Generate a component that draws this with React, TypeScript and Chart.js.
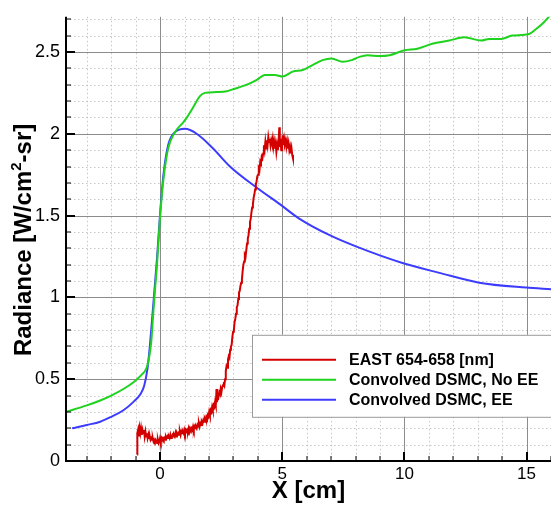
import React, { useEffect, useRef } from 'react';
import { Chart, registerables } from 'chart.js';

Chart.register(...registerables);

const FONT = '"Liberation Sans", Arial, Helvetica, sans-serif';

// ---- axes ----
const xMin = -3.85;
const xMax = 16;
const yMin = 0;
const yMax = 2.715;
const xMajorTicks = [0, 5, 10, 15];
const yMajorTicks = [0, 0.5, 1, 1.5, 2, 2.5];
const xMinorTicks = [-3, -2, -1, 1, 2, 3, 4, 6, 7, 8, 9, 11, 12, 13, 14, 16];
const yMinorTicks = [0.1, 0.2, 0.3, 0.4, 0.6, 0.7, 0.8, 0.9, 1.1, 1.2, 1.3, 1.4, 1.6, 1.7, 1.8, 1.9, 2.1, 2.2, 2.3, 2.4, 2.6, 2.7];

const xTitle = 'X [cm]';
const yTitleParts = ['Radiance [W/cm', '2', '-sr]'];

// ---- series ----
const seriesLabels = ['EAST 654-658 [nm]', 'Convolved DSMC, No EE', 'Convolved DSMC, EE'];
const seriesColors = ['#d40000', '#1ed21e', '#3c3cff'];

const eastData: [number, number][] = [
  [-0.94, 0.04], [-0.93, 0.17], [-0.9, 0.19], [-0.87, 0.15], [-0.84, 0.2], [-0.81, 0.17], [-0.78, 0.2], [-0.75, 0.16],
  [-0.72, 0.19], [-0.69, 0.17], [-0.66, 0.19], [-0.63, 0.15], [-0.6, 0.18], [-0.57, 0.15], [-0.54, 0.17], [-0.51, 0.14],
  [-0.48, 0.16], [-0.45, 0.14], [-0.42, 0.15], [-0.39, 0.13], [-0.36, 0.14], [-0.33, 0.13], [-0.3, 0.14], [-0.27, 0.12],
  [-0.24, 0.13], [-0.21, 0.12], [-0.18, 0.13], [-0.15, 0.12], [-0.12, 0.11], [-0.09, 0.13], [-0.06, 0.11], [-0.03, 0.12],
  [0.0, 0.14], [0.03, 0.12], [0.06, 0.14], [0.09, 0.13], [0.12, 0.14], [0.15, 0.13], [0.18, 0.14], [0.21, 0.13],
  [0.24, 0.15], [0.27, 0.14], [0.3, 0.15], [0.33, 0.14], [0.36, 0.15], [0.39, 0.14], [0.42, 0.16], [0.45, 0.14],
  [0.48, 0.15], [0.51, 0.16], [0.54, 0.15], [0.57, 0.16], [0.6, 0.15], [0.63, 0.17], [0.66, 0.15], [0.69, 0.17],
  [0.72, 0.16], [0.75, 0.17], [0.78, 0.16], [0.81, 0.18], [0.84, 0.16], [0.87, 0.18], [0.9, 0.17], [0.93, 0.18],
  [0.96, 0.17], [0.99, 0.19], [1.02, 0.17], [1.05, 0.19], [1.08, 0.18], [1.11, 0.19], [1.14, 0.18], [1.17, 0.2],
  [1.2, 0.18], [1.23, 0.2], [1.26, 0.19], [1.29, 0.2], [1.32, 0.19], [1.35, 0.21], [1.38, 0.19], [1.41, 0.21],
  [1.44, 0.2], [1.47, 0.21], [1.5, 0.2], [1.53, 0.22], [1.56, 0.21], [1.59, 0.23], [1.62, 0.21], [1.65, 0.23],
  [1.68, 0.22], [1.71, 0.24], [1.74, 0.23], [1.77, 0.25], [1.8, 0.24], [1.83, 0.26], [1.86, 0.25], [1.89, 0.27],
  [1.92, 0.26], [1.95, 0.28], [1.98, 0.27], [2.01, 0.3], [2.04, 0.28], [2.07, 0.31], [2.1, 0.3], [2.13, 0.33],
  [2.16, 0.31], [2.19, 0.34], [2.22, 0.33], [2.25, 0.36], [2.28, 0.34], [2.31, 0.44], [2.33, 0.36], [2.36, 0.4],
  [2.39, 0.39], [2.42, 0.42], [2.45, 0.41], [2.48, 0.44], [2.51, 0.42], [2.54, 0.45], [2.57, 0.45], [2.6, 0.47],
  [2.63, 0.46], [2.66, 0.5], [2.69, 0.55], [2.72, 0.58], [2.75, 0.57], [2.78, 0.62], [2.81, 0.64], [2.84, 0.63],
  [2.87, 0.68], [2.9, 0.7], [2.93, 0.71], [2.96, 0.76], [2.99, 0.79], [3.02, 0.8], [3.05, 0.85], [3.08, 0.87],
  [3.11, 0.9], [3.14, 0.94], [3.17, 0.95], [3.2, 0.99], [3.23, 1.03], [3.26, 1.04], [3.29, 1.07], [3.32, 1.09],
  [3.35, 1.11], [3.38, 1.16], [3.41, 1.2], [3.44, 1.22], [3.47, 1.26], [3.5, 1.25], [3.53, 1.29], [3.56, 1.33],
  [3.59, 1.36], [3.62, 1.38], [3.65, 1.42], [3.68, 1.46], [3.71, 1.48], [3.74, 1.52], [3.77, 1.55], [3.8, 1.57],
  [3.83, 1.61], [3.86, 1.63], [3.89, 1.66], [3.92, 1.69], [3.95, 1.71], [3.98, 1.74], [4.01, 1.75], [4.04, 1.79],
  [4.07, 1.78], [4.1, 1.83], [4.13, 1.82], [4.16, 1.86], [4.19, 1.85], [4.22, 1.88], [4.25, 1.93], [4.28, 1.9],
  [4.31, 1.95], [4.34, 1.91], [4.37, 1.96], [4.4, 1.93], [4.43, 1.98], [4.46, 1.95], [4.49, 1.97], [4.52, 1.93],
  [4.55, 1.96], [4.58, 1.94], [4.61, 1.97], [4.64, 1.92], [4.67, 1.95], [4.7, 1.91], [4.73, 1.94], [4.76, 1.89],
  [4.79, 1.93], [4.82, 1.9], [4.85, 1.95], [4.88, 2.04], [4.9, 1.92], [4.93, 1.97], [4.96, 1.9], [4.99, 1.95],
  [5.02, 1.99], [5.05, 1.93], [5.08, 1.97], [5.11, 1.94], [5.14, 1.96], [5.17, 1.92], [5.2, 1.95], [5.23, 1.91],
  [5.26, 1.94], [5.29, 1.9], [5.32, 1.92], [5.35, 1.88], [5.38, 1.91], [5.41, 1.87], [5.44, 1.85],
];

const noEEData: [number, number][] = [
  [-3.85, 0.3], [-3.0, 0.34], [-2.45, 0.37], [-2.0, 0.4], [-1.5, 0.44], [-1.1, 0.48], [-0.8, 0.52], [-0.55, 0.57],
  [-0.45, 0.63], [-0.36, 0.73], [-0.28, 0.9], [-0.2, 1.06], [-0.13, 1.19], [0.0, 1.49], [0.13, 1.71], [0.33, 1.91],
  [0.61, 2.01], [0.95, 2.07], [1.1, 2.1], [1.35, 2.16], [1.63, 2.23], [1.84, 2.25], [2.3, 2.255], [2.73, 2.26],
  [2.94, 2.27], [3.55, 2.3], [3.96, 2.33], [4.29, 2.36], [4.69, 2.36], [5.02, 2.35], [5.43, 2.38], [5.84, 2.39],
  [6.24, 2.42], [6.65, 2.45], [7.02, 2.46], [7.47, 2.44], [7.84, 2.45], [8.16, 2.47], [8.49, 2.48], [8.98, 2.475],
  [9.39, 2.48], [10.0, 2.51], [10.53, 2.52], [11.14, 2.55], [11.84, 2.57], [12.45, 2.59], [13.14, 2.57], [13.47, 2.58],
  [13.96, 2.58], [14.41, 2.6], [15.1, 2.61], [15.39, 2.64], [15.7, 2.68], [16.0, 2.73],
];

const eeData: [number, number][] = [
  [-3.6, 0.2], [-3.0, 0.22], [-2.45, 0.24], [-2.0, 0.27], [-1.5, 0.31], [-1.1, 0.36], [-0.8, 0.41], [-0.65, 0.46],
  [-0.52, 0.56], [-0.42, 0.7], [-0.33, 0.86], [-0.2, 1.1], [-0.12, 1.25], [0.0, 1.51], [0.14, 1.75], [0.33, 1.93],
  [0.61, 2.01], [1.02, 2.03], [1.5, 2.0], [2.17, 1.91], [2.86, 1.8], [3.96, 1.67], [4.9, 1.57], [5.71, 1.48],
  [6.94, 1.38], [8.04, 1.31], [9.92, 1.21], [11.43, 1.15], [13.06, 1.09], [14.98, 1.06], [16.0, 1.05],
];

const decorPlugin = {
  id: 'decor',
  beforeDatasetsDraw(chart: any) {
    const { ctx, chartArea: a, scales } = chart;
    const sx = scales.x;
    const sy = scales.y;
    ctx.save();
    ctx.lineWidth = 1;
    ctx.strokeStyle = '#c6c6c6';
    ctx.setLineDash([1.5, 2.5]);
    xMinorTicks.forEach((v) => {
      const p = Math.round(sx.getPixelForValue(v)) + 0.5;
      ctx.beginPath(); ctx.moveTo(p, a.top); ctx.lineTo(p, a.bottom); ctx.stroke();
    });
    yMinorTicks.forEach((v) => {
      const p = Math.round(sy.getPixelForValue(v)) + 0.5;
      ctx.beginPath(); ctx.moveTo(a.left, p); ctx.lineTo(a.right, p); ctx.stroke();
    });
    ctx.setLineDash([]);
    ctx.strokeStyle = '#8c8c8c';
    xMajorTicks.forEach((v) => {
      const p = Math.round(sx.getPixelForValue(v)) + 0.5;
      ctx.beginPath(); ctx.moveTo(p, a.top); ctx.lineTo(p, a.bottom); ctx.stroke();
    });
    yMajorTicks.forEach((v) => {
      const p = Math.round(sy.getPixelForValue(v)) + 0.5;
      ctx.beginPath(); ctx.moveTo(a.left, p); ctx.lineTo(a.right, p); ctx.stroke();
    });
    ctx.restore();
  },
  afterDatasetsDraw(chart: any) {
    const { ctx, chartArea: a, scales } = chart;
    const sx = scales.x;
    const sy = scales.y;
    ctx.save();
    // axis lines
    ctx.strokeStyle = '#000';
    ctx.lineWidth = 2;
    ctx.beginPath();
    ctx.moveTo(a.left, a.top);
    ctx.lineTo(a.left, a.bottom);
    ctx.lineTo(a.right, a.bottom);
    ctx.stroke();
    // tick marks
    const tick = (v: number, len: number, w: number, horiz: boolean) => {
      ctx.lineWidth = w;
      ctx.beginPath();
      if (horiz) {
        const p = Math.round(sx.getPixelForValue(v));
        ctx.moveTo(p, a.bottom); ctx.lineTo(p, a.bottom - len);
      } else {
        const p = Math.round(sy.getPixelForValue(v));
        ctx.moveTo(a.left, p); ctx.lineTo(a.left + len, p);
      }
      ctx.stroke();
    };
    xMajorTicks.forEach((v) => tick(v, 9, 2, true));
    xMinorTicks.forEach((v) => tick(v, 5, 1, true));
    yMajorTicks.forEach((v) => tick(v, 9, 2, false));
    yMinorTicks.forEach((v) => tick(v, 5, 1, false));

    // legend
    const lx = a.left + 186;
    const ly = a.top + 318;
    ctx.fillStyle = '#fff';
    ctx.fillRect(lx, ly, 320, 82);
    ctx.strokeStyle = '#9a9a9a';
    ctx.lineWidth = 1;
    ctx.strokeRect(lx + 0.5, ly + 0.5, 320, 82);
    ctx.font = `bold 16px ${FONT}`;
    ctx.textBaseline = 'middle';
    ctx.textAlign = 'left';
    chart.data.datasets.forEach((ds: any, i: number) => {
      const yy = ly + 25 + i * 20;
      ctx.strokeStyle = ds.borderColor;
      ctx.lineWidth = 2;
      ctx.beginPath(); ctx.moveTo(lx + 10, yy); ctx.lineTo(lx + 84, yy); ctx.stroke();
      ctx.fillStyle = '#000';
      ctx.fillText(ds.label, lx + 97, yy + 1);
    });

    // x title
    ctx.fillStyle = '#000';
    ctx.font = `bold 24px ${FONT}`;
    ctx.textAlign = 'center';
    ctx.textBaseline = 'alphabetic';
    ctx.fillText(xTitle, (a.left + a.right) / 2, a.bottom + 37);

    // y title (rotated, with superscript)
    ctx.translate(31, (a.top + a.bottom) / 2 + 1);
    ctx.rotate(-Math.PI / 2);
    ctx.textAlign = 'left';
    const big = `bold 24px ${FONT}`;
    const small = `bold 15px ${FONT}`;
    ctx.font = big;
    const w0 = ctx.measureText(yTitleParts[0]).width;
    const w2 = ctx.measureText(yTitleParts[2]).width;
    ctx.font = small;
    const w1 = ctx.measureText(yTitleParts[1]).width;
    let cx = -(w0 + w1 + w2) / 2;
    ctx.font = big;
    ctx.fillText(yTitleParts[0], cx, 0);
    cx += w0;
    ctx.font = small;
    ctx.fillText(yTitleParts[1], cx, -10);
    cx += w1;
    ctx.font = big;
    ctx.fillText(yTitleParts[2], cx, 0);
    ctx.restore();
  },
};

export default function App() {
  const ref = useRef<HTMLCanvasElement | null>(null);

  useEffect(() => {
    document.body.style.margin = '0';
    const canvas = ref.current;
    if (!canvas) return;
    const toPts = (d: [number, number][]) => d.map(([x, y]) => ({ x, y }));
    const chart = new Chart(canvas, {
      type: 'line',
      data: {
        datasets: [
          {
            label: seriesLabels[0],
            data: toPts(eastData),
            borderColor: seriesColors[0],
            borderWidth: 2,
            pointRadius: 0,
            tension: 0,
          },
          {
            label: seriesLabels[1],
            data: toPts(noEEData),
            borderColor: seriesColors[1],
            borderWidth: 2,
            pointRadius: 0,
            cubicInterpolationMode: 'monotone',
          },
          {
            label: seriesLabels[2],
            data: toPts(eeData),
            borderColor: seriesColors[2],
            borderWidth: 2,
            pointRadius: 0,
            cubicInterpolationMode: 'monotone',
          },
        ],
      },
      options: {
        animation: false,
        responsive: true,
        maintainAspectRatio: false,
        layout: { padding: { top: 4, right: 0, left: 0, bottom: 0 } },
        plugins: { legend: { display: false }, tooltip: { enabled: false } },
        scales: {
          x: {
            type: 'linear',
            min: xMin,
            max: xMax,
            grid: { display: false, drawTicks: false },
            border: { display: false },
            ticks: {
              color: '#000',
              font: { family: FONT, size: 17 },
              padding: 3,
              maxRotation: 0,
              callback: (v: any) => String(v),
            },
            afterBuildTicks: (s: any) => { s.ticks = xMajorTicks.map((v) => ({ value: v })); },
            afterFit: (s: any) => { s.height = 47; },
          },
          y: {
            type: 'linear',
            min: yMin,
            max: yMax,
            grid: { display: false, drawTicks: false },
            border: { display: false },
            ticks: {
              color: '#000',
              font: { family: FONT, size: 18 },
              padding: 6,
              callback: (v: any) => String(v),
            },
            afterBuildTicks: (s: any) => { s.ticks = yMajorTicks.map((v) => ({ value: v })); },
            afterFit: (s: any) => { s.width = 66; },
          },
        },
      },
      plugins: [decorPlugin],
    });
    return () => chart.destroy();
  }, []);

  return (
    <div style={{ position: 'relative', width: 551, height: 508 }}>
      <canvas ref={ref} />
    </div>
  );
}
